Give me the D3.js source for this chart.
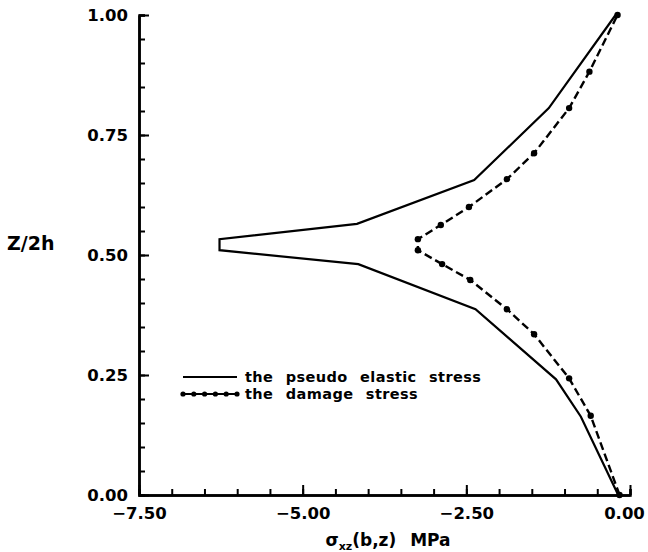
<!DOCTYPE html>
<html>
<head>
<meta charset="utf-8">
<script src="https://cdn.jsdelivr.net/npm/d3@7"></script>
<style>
  body { margin: 0; background: #fff; }
  text { font-family: "DejaVu Sans", sans-serif; font-weight: bold; fill: #000; }
</style>
</head>
<body>
<div id="chart"></div>
<script>
// pseudo elastic stress (solid)
var elasticX = [-0.18, -0.75, -1.13, -2.36, -4.15, -6.27, -6.27, -4.17, -2.38, -1.24, -0.22];
var elasticZ = [0, 0.163, 0.241, 0.387, 0.481, 0.51, 0.533, 0.565, 0.656, 0.806, 1.0];
// damage stress (dashed with dots)
var damageX = [-0.16, -0.6, -0.93, -1.465, -1.88, -2.44, -2.87, -3.24, -3.24, -2.89, -2.46, -1.88, -1.465, -0.93, -0.62, -0.19];
var damageZ = [0, 0.165, 0.243, 0.335, 0.387, 0.448, 0.481, 0.51, 0.533, 0.5625, 0.6, 0.658, 0.712, 0.806, 0.882, 1.0];

var xMajor = [-7.5, -5, -2.5, 0];
var yMajor = [0, 0.25, 0.5, 0.75, 1];
var seriesNames = ["the pseudo elastic stress", "the damage stress"];

var w = 648, h = 552;
var svg = d3.select("#chart").append("svg").attr("width", w).attr("height", h);

var x = d3.scaleLinear().domain([-7.5, 0]).range([139, 630]);
var y = d3.scaleLinear().domain([0, 1]).range([495, 15]);

// minor ticks
svg.append("g")
  .attr("transform", `translate(0,${y(0)})`)
  .call(d3.axisBottom(x).tickValues(d3.range(-7.5, 0.01, 0.5)).tickSize(-6).tickFormat(""));
svg.append("g")
  .attr("transform", `translate(${x(-7.5)},0)`)
  .call(d3.axisLeft(y).tickValues(d3.range(0, 1.001, 0.05)).tickSize(-6).tickFormat(""));

// major ticks with labels
var xAxis = svg.append("g")
  .attr("transform", `translate(0,${y(0)})`)
  .call(d3.axisBottom(x).tickValues(xMajor).tickSizeInner(-10).tickSizeOuter(0).tickPadding(9).tickFormat(d3.format(".2f")));
var yAxis = svg.append("g")
  .attr("transform", `translate(${x(-7.5)},0)`)
  .call(d3.axisLeft(y).tickValues(yMajor).tickSizeInner(-10).tickSizeOuter(0).tickPadding(11).tickFormat(d3.format(".2f")));

svg.selectAll(".domain").attr("stroke", "#000").attr("stroke-width", 2.5);
svg.selectAll(".tick line").attr("stroke", "#000").attr("stroke-width", 2);
svg.selectAll(".tick text").attr("font-size", 16.5).style("font-family", "'DejaVu Sans', sans-serif").style("font-weight", "bold");
xAxis.selectAll(".tick text").attr("dy", "0.9em");
xAxis.selectAll(".tick text").filter(d => d === 0).attr("dx", -6);

var line = d3.line().x(d => x(d[0])).y(d => y(d[1]));

svg.append("path")
  .datum(d3.zip(elasticX, elasticZ))
  .attr("fill", "none")
  .attr("stroke", "#000")
  .attr("stroke-width", 2.2)
  .attr("d", line);

var dmg = d3.zip(damageX, damageZ);
svg.append("path")
  .datum(dmg)
  .attr("fill", "none")
  .attr("stroke", "#000")
  .attr("stroke-width", 2.4)
  .attr("stroke-dasharray", "8,4")
  .attr("d", line);
svg.selectAll(".dot")
  .data(dmg)
  .enter()
  .append("circle")
  .attr("class", "dot")
  .attr("cx", d => x(d[0]))
  .attr("cy", d => y(d[1]))
  .attr("r", 3.2)
  .attr("fill", "#000");

// legend
var legend = svg.append("g").attr("transform", "translate(183,377)");
legend.append("line").attr("x1", 0).attr("x2", 54).attr("y1", 0).attr("y2", 0)
  .attr("stroke", "#000").attr("stroke-width", 2);
legend.append("line").attr("x1", 0).attr("x2", 54).attr("y1", 17).attr("y2", 17)
  .attr("stroke", "#000").attr("stroke-width", 2);
legend.selectAll(".ldot")
  .data(d3.range(0, 55, 10.8))
  .enter()
  .append("circle")
  .attr("cx", d => d)
  .attr("cy", 17)
  .attr("r", 2.6)
  .attr("fill", "#000");
legend.selectAll(".ltext")
  .data(seriesNames)
  .enter()
  .append("text")
  .attr("x", 62)
  .attr("y", (d, i) => i * 17 + 5)
  .attr("font-size", 14.5)
  .style("letter-spacing", "0.4px")
  .style("word-spacing", "7px")
  .text(d => d);

// axis titles
svg.append("text")
  .attr("x", 7)
  .attr("y", 250)
  .attr("font-size", 19)
  .text("Z/2h");

var xt = svg.append("text")
  .attr("x", 388)
  .attr("y", 546)
  .attr("text-anchor", "middle")
  .attr("font-size", 17)
  .style("word-spacing", "8px");
xt.append("tspan").text("σ");
xt.append("tspan").attr("font-size", 11).attr("dy", 4).text("xz");
xt.append("tspan").attr("dy", -4).text("(b,z) MPa");
</script>
</body>
</html>
